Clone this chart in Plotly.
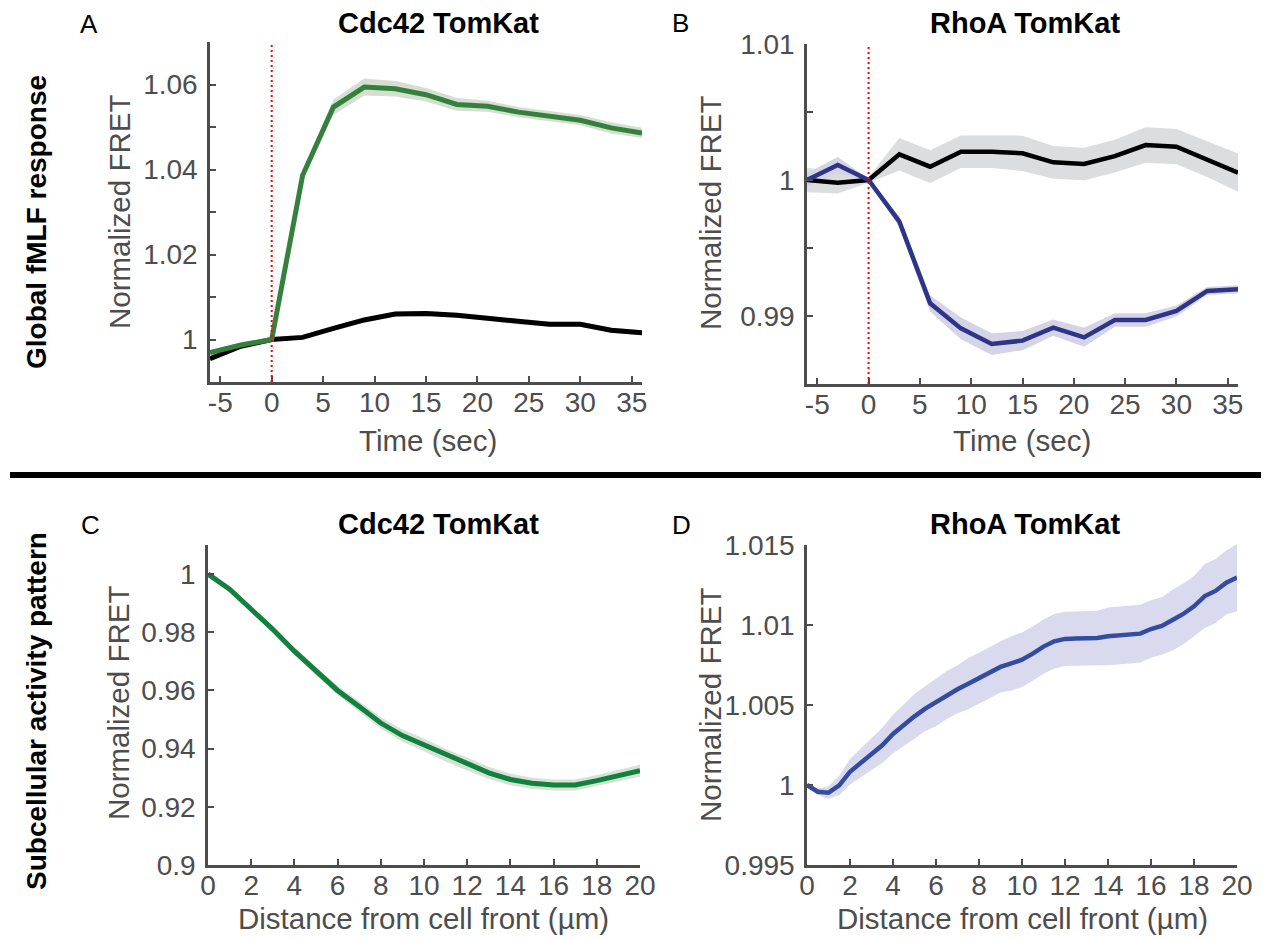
import plotly.graph_objects as go

# ---------------- data ----------------
time_s = [-6, -3, 0, 3, 6, 9, 12, 15, 18, 21, 24, 27, 30, 33, 36]

cdc42_stim = [0.9969, 0.9987, 1.0000, 1.0386, 1.0547, 1.0594, 1.0590, 1.0576,
              1.0553, 1.0549, 1.0535, 1.0525, 1.0516, 1.0498, 1.0486]
cdc42_stim_err = [0.0005, 0.0004, 0.0001, 0.0010, 0.0018, 0.0020, 0.0018, 0.0016,
                  0.0015, 0.0013, 0.0012, 0.0012, 0.0012, 0.0013, 0.0012]
cdc42_ctrl = [0.9955, 0.9984, 1.0000, 1.0005, 1.0026, 1.0046, 1.0060, 1.0061,
              1.0057, 1.0050, 1.0041, 1.0036, 1.0036, 1.0022, 1.0016]
cdc42_ctrl_err = [0.0004, 0.0003, 0.0001, 0.0004, 0.0005, 0.0006, 0.0006, 0.0006,
                  0.0006, 0.0006, 0.0006, 0.0006, 0.0006, 0.0006, 0.0006]

rhoa_stim = [1.0000, 1.0011, 1.0000, 0.99694, 0.99093, 0.98909, 0.98794, 0.98819,
             0.98914, 0.98843, 0.98971, 0.98971, 0.99037, 0.99184, 0.99196]
rhoa_stim_err = [0.0005, 0.0006, 0.0001, 0.0004, 0.0006, 0.0008, 0.0008, 0.0007,
                 0.0006, 0.0007, 0.0005, 0.0005, 0.0004, 0.0003, 0.0003]
rhoa_ctrl = [1.0000, 0.9998, 1.0000, 1.00189, 1.00098, 1.00208, 1.00208, 1.00196,
             1.0013, 1.00118, 1.00176, 1.00257, 1.00245, 1.00152, 1.00054]
rhoa_ctrl_err = [0.0009, 0.0008, 0.0002, 0.0012, 0.0012, 0.0012, 0.0012, 0.0013,
                 0.0012, 0.0012, 0.0012, 0.0013, 0.0013, 0.0013, 0.0014]

dist_c = list(range(0, 21))
cdc42_front = [1.0, 0.9948, 0.9879, 0.9810, 0.9735, 0.9666, 0.9600, 0.9545, 0.9488,
               0.9445, 0.9413, 0.9378, 0.9347, 0.9317, 0.9294, 0.9281, 0.9275,
               0.9275, 0.9290, 0.9307, 0.9324]
cdc42_front_err = [0.0002, 0.0006, 0.0009, 0.0011, 0.0013, 0.0014, 0.0016, 0.0018,
                   0.0020, 0.0021, 0.0022, 0.0022, 0.0022, 0.0021, 0.0020, 0.0019,
                   0.0019, 0.0019, 0.0019, 0.0020, 0.0021]

dist_d = [i * 0.5 for i in range(41)]
rhoa_front = [1.0, 0.99958, 0.99952, 0.99998, 1.00083, 1.00140, 1.00192, 1.00248,
              1.00319, 1.00375, 1.00429, 1.00477, 1.00517, 1.00563, 1.00598, 1.00633,
              1.00667, 1.00704, 1.00738, 1.00760, 1.00783, 1.00821, 1.00865, 1.00898,
              1.00913, 1.00915, 1.00915, 1.00919, 1.00929, 1.00935, 1.00940, 1.00946,
              1.00975, 1.00994, 1.01031, 1.01069, 1.01117, 1.01181, 1.01213, 1.01265,
              1.01296]
rhoa_front_err = [0.0, 0.0002, 0.0004, 0.0006, 0.0008, 0.0009, 0.0010, 0.0011, 0.0012,
                  0.0013, 0.0014, 0.0014, 0.0015, 0.0015, 0.0015, 0.0016, 0.0016, 0.0016,
                  0.0016, 0.0017, 0.0017, 0.0017, 0.0017, 0.0017, 0.0017, 0.0017, 0.0017,
                  0.0017, 0.0018, 0.0018, 0.0018, 0.0018, 0.0018, 0.0018, 0.0019, 0.0019,
                  0.0019, 0.0020, 0.0020, 0.0020, 0.0021]

time_ticks = [-5, 0, 5, 10, 15, 20, 25, 30, 35]
dist_ticks = list(range(0, 21, 2))

# ---------------- style ----------------
W, H = 1269, 939
OFF = 8  # page body margin of the browser
FONT = "Liberation Sans, Arial, Helvetica, sans-serif"
TICK_COL = "#4d4d4d"
AX_COL = "#4d4d4d"
FS = 28
FS_TITLE = 29.5


def px(x):
    return (x - OFF) / W


def py(y):
    return 1 - (y - OFF) / H


fig = go.Figure()


def band(x, y, e, fill, xa, ya):
    up = [a + b for a, b in zip(y, e)]
    lo = [a - b for a, b in zip(y, e)]
    fig.add_trace(go.Scatter(x=list(x) + list(x)[::-1], y=up + lo[::-1], fill="toself",
                             fillcolor=fill, line=dict(width=0), mode="lines",
                             hoverinfo="skip", showlegend=False, xaxis=xa, yaxis=ya))


def line(x, y, col, w, xa, ya):
    fig.add_trace(go.Scatter(x=x, y=y, mode="lines", line=dict(color=col, width=w),
                             showlegend=False, xaxis=xa, yaxis=ya))


# Panel A
band(time_s, cdc42_ctrl, cdc42_ctrl_err, "rgb(220,221,222)", "x", "y")
band(time_s, cdc42_stim, cdc42_stim_err, "rgb(212,223,209)", "x", "y")
line(time_s, cdc42_ctrl, "black", 5, "x", "y")
line(time_s, cdc42_stim, "rgb(54,128,62)", 5, "x", "y")

# Panel B
band(time_s, rhoa_ctrl, rhoa_ctrl_err, "rgb(220,221,222)", "x2", "y2")
band(time_s, rhoa_stim, rhoa_stim_err, "rgb(212,212,230)", "x2", "y2")
line(time_s, rhoa_ctrl, "black", 4.5, "x2", "y2")
line(time_s, rhoa_stim, "rgb(46,52,135)", 4.5, "x2", "y2")

# Panel C
band(dist_c, cdc42_front, cdc42_front_err, "rgb(213,226,212)", "x3", "y3")
line(dist_c, cdc42_front, "rgb(18,128,62)", 5, "x3", "y3")

# Panel D
band(dist_d, rhoa_front, rhoa_front_err, "rgb(218,218,238)", "x4", "y4")
line(dist_d, rhoa_front, "rgb(52,76,160)", 4.5, "x4", "y4")


def xax(dom, rng, ticks, anchor):
    return dict(domain=[px(dom[0]), px(dom[1])], range=rng, anchor=anchor,
                tickmode="array", tickvals=ticks, ticktext=[str(t) for t in ticks],
                ticks="inside", ticklen=6, tickwidth=2, tickcolor=AX_COL,
                showline=True, linecolor=AX_COL, linewidth=2.5, showgrid=False,
                zeroline=False, tickfont=dict(family=FONT, size=FS, color=TICK_COL),
                ticklabelstandoff=-6, automargin=False)


def yax(dom, rng, vals, texts, anchor):
    return dict(domain=[py(dom[1]), py(dom[0])], range=rng, anchor=anchor,
                tickmode="array", tickvals=vals, ticktext=texts,
                ticks="inside", ticklen=6, tickwidth=2, tickcolor=AX_COL,
                showline=True, linecolor=AX_COL, linewidth=2.5, showgrid=False,
                zeroline=False, tickfont=dict(family=FONT, size=FS, color=TICK_COL),
                ticklabelstandoff=4, automargin=False)


A_x, A_y = (210, 642), (42, 382)
B_x, B_y = (807, 1238), (44, 384)
C_x, C_y = (208, 640), (545, 865)
D_x, D_y = (807, 1237), (545, 865)

fig.update_layout(
    template="none",
    width=W, height=H, margin=dict(l=0, r=0, t=0, b=0, pad=0),
    paper_bgcolor="white", plot_bgcolor="white", showlegend=False,
    xaxis=xax(A_x, [-6, 36], time_ticks, "y"),
    yaxis=yax(A_y, [0.99, 1.07],
              [0.99, 1.0, 1.01, 1.02, 1.03, 1.04, 1.05, 1.06, 1.07],
              ["", "1", "", "1.02", "", "1.04", "", "1.06", ""], "x"),
    xaxis2=xax(B_x, [-6, 36], time_ticks, "y2"),
    yaxis2=yax(B_y, [0.985, 1.01],
               [0.985, 0.99, 0.995, 1.0, 1.005, 1.01],
               ["", "0.99", "", "1", "", "1.01"], "x2"),
    xaxis3=xax(C_x, [0, 20], dist_ticks, "y3"),
    yaxis3=yax(C_y, [0.9, 1.01],
               [0.9, 0.92, 0.94, 0.96, 0.98, 1.0],
               ["0.9", "0.92", "0.94", "0.96", "0.98", "1"], "x3"),
    xaxis4=xax(D_x, [0, 20], dist_ticks, "y4"),
    yaxis4=yax(D_y, [0.995, 1.015],
               [0.995, 1.0, 1.005, 1.01, 1.015],
               ["0.995", "1", "1.005", "1.01", "1.015"], "x4"),
)

# red dotted stimulus lines
for xa, ya in (("x", "y"), ("x2", "y2")):
    fig.add_shape(type="line", xref=xa, yref=ya + " domain", x0=0, x1=0, y0=0, y1=1,
                  line=dict(color="rgb(255,0,0)", width=2, dash="2px,3px"),
                  layer="above")

# horizontal separator
fig.add_shape(type="line", xref="paper", yref="paper", x0=px(10), x1=px(1266),
              y0=py(475), y1=py(475), line=dict(color="black", width=6))


def text(x, y, s, size=FS, color=TICK_COL, bold=False, angle=0):
    fig.add_annotation(x=px(x), y=py(y), xref="paper", yref="paper",
                       text=("<b>%s</b>" % s) if bold else s, showarrow=False,
                       textangle=angle, xanchor="center", yanchor="middle",
                       font=dict(family=FONT, size=size, color=color))


# panel titles
text(438, 23, "Cdc42 TomKat", size=29, bold=True, color="black")
text(1025, 23, "RhoA TomKat", size=29, bold=True, color="black")
text(438, 524, "Cdc42 TomKat", size=29, bold=True, color="black")
text(1025, 524, "RhoA TomKat", size=29, bold=True, color="black")

# panel letters
text(89, 24, "A", size=26, color="black")
text(680, 23, "B", size=26, color="black")
text(90, 525, "C", size=26, color="black")
text(681, 525, "D", size=26, color="black")

# row labels
text(36, 222, "Global fMLF response", size=28, color="black", bold=True, angle=-90)
text(36, 711, "Subcellular activity pattern", size=28, color="black", bold=True, angle=-90)

# axis titles
text(120, 212, "Normalized FRET", size=FS_TITLE, angle=-90)
text(710, 213, "Normalized FRET", size=FS_TITLE, angle=-90)
text(118, 703, "Normalized FRET", size=FS_TITLE, angle=-90)
text(710, 705, "Normalized FRET", size=FS_TITLE, angle=-90)
text(428, 440, "Time (sec)", size=FS_TITLE)
text(1022, 440, "Time (sec)", size=FS_TITLE)
text(424, 918, "Distance from cell front (µm)", size=FS_TITLE)
text(1022, 918, "Distance from cell front (µm)", size=FS_TITLE)

fig.write_html("out.html")
